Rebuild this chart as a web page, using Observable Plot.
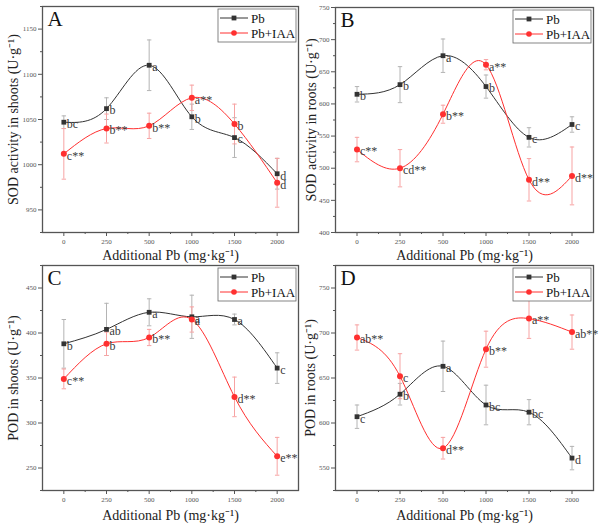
<!DOCTYPE html>
<html>
<head>
<meta charset="utf-8">
<script src="https://cdn.jsdelivr.net/npm/d3@7"></script>
<script src="https://cdn.jsdelivr.net/npm/@observablehq/plot@0.6"></script>
<style>
  html, body { margin: 0; padding: 0; background: #fff; }
  #wrap { position: relative; width: 600px; height: 527px; overflow: hidden; }
  #wrap > svg { position: absolute; }
</style>
</head>
<body>
<div id="wrap"></div>
<script>
// ---- data ----
const doses = ["0", "250", "500", "1000", "1500", "2000"];
const seriesNames = ["Pb", "Pb+IAA"];
const xTitle = "Additional Pb (mg·kg⁻¹)";

// A: SOD activity in shoots
const sodShootPb = [1047, 1062, 1110, 1053, 1030, 990];
const sodShootPbErr = [7, 12, 28, 14, 22, 17];
const sodShootPbSig = ["bc", "b", "a", "b", "c", "d"];
const sodShootIAA = [1012, 1040, 1043, 1074, 1045, 980];
const sodShootIAAErr = [28, 16, 14, 14, 22, 27];
const sodShootIAASig = ["c**", "b**", "b**", "a**", "b", "d"];
const sodShootTicks = [950, 1000, 1050, 1100, 1150];

// B: SOD activity in roots
const sodRootPb = [615, 630, 675, 627, 548, 568];
const sodRootPbErr = [12, 28, 26, 18, 15, 12];
const sodRootPbSig = ["b", "b", "a", "b", "c", "c"];
const sodRootIAA = [529, 500, 584, 661, 482, 488];
const sodRootIAAErr = [19, 29, 14, 8, 33, 45];
const sodRootIAASig = ["c**", "cd**", "b**", "a**", "d**", "d**"];
const sodRootTicks = [400, 450, 500, 550, 600, 650, 700, 750];

// C: POD in shoots
const podShootPb = [388, 404, 423, 418, 415, 361];
const podShootPbErr = [27, 29, 15, 24, 6, 17];
const podShootPbSig = ["b", "ab", "a", "a", "a", "c"];
const podShootIAA = [349, 388, 395, 415, 329, 263];
const podShootIAAErr = [11, 13, 9, 14, 22, 21];
const podShootIAASig = ["c**", "b", "b**", "a", "d**", "e**"];
const podShootTicks = [250, 300, 350, 400, 450];

// D: POD in roots
const podRootPb = [607, 632, 663, 620, 612, 561];
const podRootPbErr = [13, 12, 28, 22, 14, 13];
const podRootPbSig = ["c", "b", "a", "bc", "bc", "d"];
const podRootIAA = [695, 652, 572, 682, 716, 701];
const podRootIAAErr = [14, 25, 12, 20, 22, 19];
const podRootIAASig = ["ab**", "c", "d**", "b**", "a**", "ab**"];
const podRootTicks = [550, 600, 650, 700, 750];

// ---- styles ----
const FONT = "Liberation Serif, Times New Roman, serif";
const PB_COLOR = "#333333";
const IAA_COLOR = "#ff3030";
const PB_ERR = "#b4b4b4";
const IAA_ERR = "#f7a3a3";
const AXIS_COLOR = "#555555";

const capSymbol = {
  draw(ctx, size) {
    const w = Math.sqrt(size / Math.PI);
    ctx.moveTo(-w, 0);
    ctx.lineTo(w, 0);
  }
};

function rows(vals, errs, sigs) {
  return doses.map((d, i) => ({ i, v: vals[i], lo: vals[i] - errs[i], hi: vals[i] + errs[i], sig: sigs[i] }));
}

function panel(cfg) {
  const pb = rows(cfg.pb, cfg.pbErr, cfg.pbSig);
  const iaa = rows(cfg.iaa, cfg.iaaErr, cfg.iaaSig);
  const [y0, y1] = cfg.yDomain;
  const minorY = d3.range(y0, y1 + 0.1, 25).filter(t => !cfg.ticks.includes(t));
  const majorX = d3.range(0, doses.length);
  const minorX = d3.range(0.5, doses.length - 1, 1);

  const errMarks = (data, color) => [
    Plot.ruleX(data, { x: "i", y1: "lo", y2: "hi", stroke: color, strokeWidth: 1 }),
    Plot.dot(data, { x: "i", y: "hi", symbol: capSymbol, r: 2.2, stroke: color, fill: "none", strokeWidth: 1 }),
    Plot.dot(data, { x: "i", y: "lo", symbol: capSymbol, r: 2.2, stroke: color, fill: "none", strokeWidth: 1 })
  ];

  const svg = Plot.plot({
    width: 300,
    height: cfg.height,
    marginLeft: cfg.ml, marginRight: cfg.mr, marginTop: cfg.mt, marginBottom: cfg.mb,
    style: { fontFamily: FONT, background: "transparent", overflow: "visible" },
    x: { type: "linear", domain: [-0.5, doses.length - 0.5] },
    y: { domain: cfg.yDomain },
    marks: [
      ...errMarks(pb, PB_ERR),
      ...errMarks(iaa, IAA_ERR),
      Plot.line(pb, { x: "i", y: "v", curve: "natural", stroke: PB_COLOR, strokeWidth: 1 }),
      Plot.line(iaa, { x: "i", y: "v", curve: "natural", stroke: IAA_COLOR, strokeWidth: 1 }),
      Plot.dot(pb, { x: "i", y: "v", symbol: "square", r: 2.7, fill: PB_COLOR, stroke: "none" }),
      Plot.dot(iaa, { x: "i", y: "v", symbol: "circle", r: 3, fill: IAA_COLOR, stroke: "none" }),
      Plot.text(pb, { x: "i", y: "v", text: "sig", textAnchor: "start", dx: 3, dy: 2, fontSize: 12, fill: "#3a3a3a", fontFamily: FONT }),
      Plot.text(iaa, { x: "i", y: "v", text: "sig", textAnchor: "start", dx: 3, dy: 2, fontSize: 12, fill: "#3a3a3a", fontFamily: FONT }),
      Plot.axisY(minorY, { tickSize: 2, tickFormat: () => "", label: null, color: AXIS_COLOR }),
      Plot.axisY(cfg.ticks, { tickSize: 4, tickPadding: 2, fontSize: 7, label: null, color: AXIS_COLOR, tickFormat: d => String(d) }),
      Plot.axisX(minorX, { tickSize: 2, tickFormat: () => "", label: null, color: AXIS_COLOR }),
      Plot.axisX(majorX, { tickSize: 4, tickPadding: 3, fontSize: 7, label: null, color: AXIS_COLOR, tickFormat: i => doses[i] }),
      Plot.frame({ stroke: AXIS_COLOR, strokeWidth: 1.3 }),
      Plot.text([cfg.letter], { frameAnchor: "top-left", dx: 5, dy: 13, lineAnchor: "middle", textAnchor: "start", fontSize: 21, fill: "#111", fontFamily: FONT }),
      Plot.text([cfg.yTitle], { frameAnchor: "left", rotate: -90, dx: cfg.titleDx, textAnchor: "middle", lineAnchor: "middle", fontSize: 14, fill: "#222", fontFamily: FONT }),
      Plot.text([xTitle], { frameAnchor: "bottom", dy: cfg.xTitleDy, textAnchor: "middle", lineAnchor: "middle", fontSize: 14, fill: "#222", fontFamily: FONT })
    ]
  });

  // legend box inside the frame, top-right
  const frameRight = 300 - cfg.mr;
  const boxW = 78, boxH = 33;
  const bx = frameRight - boxW - 2, by = cfg.mt + 3;
  const g = d3.select(svg).append("g").attr("font-family", FONT).attr("text-anchor", "start");
  g.append("rect").attr("x", bx).attr("y", by).attr("width", boxW).attr("height", boxH)
    .attr("fill", "white").attr("stroke", "#666").attr("stroke-width", 0.8);
  const items = [
    { name: seriesNames[0], color: PB_COLOR, sym: "square" },
    { name: seriesNames[1], color: IAA_COLOR, sym: "circle" }
  ];
  items.forEach((it, k) => {
    const yy = by + 9 + k * 15;
    g.append("line").attr("x1", bx + 2).attr("x2", bx + 30).attr("y1", yy).attr("y2", yy)
      .attr("stroke", it.color).attr("stroke-width", 1);
    if (it.sym === "square") {
      g.append("rect").attr("x", bx + 16 - 2.4).attr("y", yy - 2.4).attr("width", 4.8).attr("height", 4.8).attr("fill", it.color);
    } else {
      g.append("circle").attr("cx", bx + 16).attr("cy", yy).attr("r", 2.8).attr("fill", it.color);
    }
    g.append("text").attr("x", bx + 33).attr("y", yy).attr("dy", "0.35em").attr("font-size", 13)
      .attr("text-anchor", "start").attr("fill", "#111").text(it.name);
  });

  svg.style.left = cfg.left + "px";
  svg.style.top = cfg.top + "px";
  return svg;
}

const wrap = document.getElementById("wrap");
wrap.appendChild(panel({
  letter: "A", yTitle: "SOD activity in shoots (U·g⁻¹)", yDomain: [925, 1175], ticks: sodShootTicks,
  pb: sodShootPb, pbErr: sodShootPbErr, pbSig: sodShootPbSig,
  iaa: sodShootIAA, iaaErr: sodShootIAAErr, iaaSig: sodShootIAASig,
  left: 0, top: 0, height: 262, ml: 42, mr: 2, mt: 6, mb: 30, titleDx: -29, xTitleDy: 23
}));
wrap.appendChild(panel({
  letter: "B", yTitle: "SOD activity in roots (U·g⁻¹)", yDomain: [400, 750], ticks: sodRootTicks,
  pb: sodRootPb, pbErr: sodRootPbErr, pbSig: sodRootPbSig,
  iaa: sodRootIAA, iaaErr: sodRootIAAErr, iaaSig: sodRootIAASig,
  left: 300, top: 0, height: 262, ml: 35, mr: 7, mt: 7, mb: 30, titleDx: -24, xTitleDy: 23
}));
wrap.appendChild(panel({
  letter: "C", yTitle: "POD in shoots (U·g⁻¹)", yDomain: [225, 475], ticks: podShootTicks,
  pb: podShootPb, pbErr: podShootPbErr, pbSig: podShootPbSig,
  iaa: podShootIAA, iaaErr: podShootIAAErr, iaaSig: podShootIAASig,
  left: 0, top: 259, height: 268, ml: 42, mr: 2, mt: 6, mb: 37, titleDx: -29, xTitleDy: 25
}));
wrap.appendChild(panel({
  letter: "D", yTitle: "POD in roots (U·g⁻¹)", yDomain: [525, 775], ticks: podRootTicks,
  pb: podRootPb, pbErr: podRootPbErr, pbSig: podRootPbSig,
  iaa: podRootIAA, iaaErr: podRootIAAErr, iaaSig: podRootIAASig,
  left: 300, top: 259, height: 268, ml: 35, mr: 7, mt: 6, mb: 37, titleDx: -25, xTitleDy: 25
}));
</script>
</body>
</html>
